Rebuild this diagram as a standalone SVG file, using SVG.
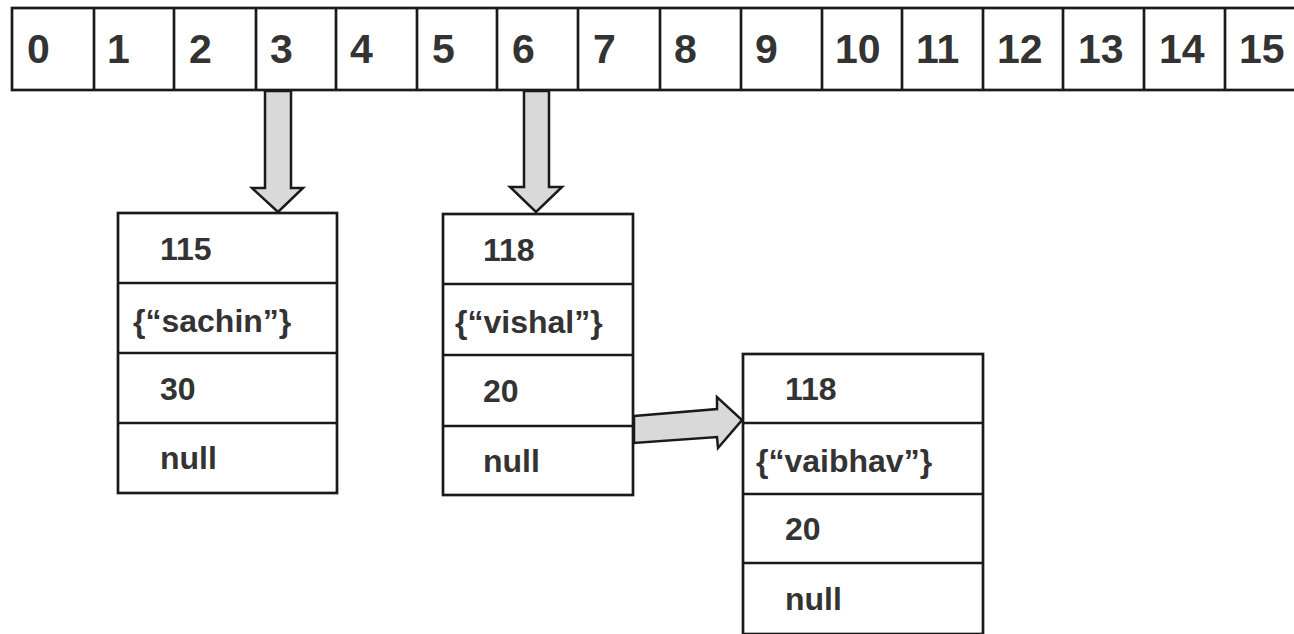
<svg xmlns="http://www.w3.org/2000/svg" width="1294" height="634" viewBox="0 0 1294 634">
<style>
.cell{fill:#fff;stroke:#1a1a1a;stroke-width:2.7}
.div{stroke:#1a1a1a;stroke-width:2.7}
.idx{font-family:"Liberation Sans",Arial,sans-serif;font-weight:bold;font-size:41px;fill:#333}
.t{font-family:"Liberation Sans",Arial,sans-serif;font-weight:bold;font-size:32px;fill:#333}
.arr{fill:#d9d9d9;stroke:#1a1a1a;stroke-width:2.5;stroke-linejoin:miter}
</style>
<rect width="1294" height="634" fill="#fff"/>
<g id="array">
<rect class="cell" x="12" y="8" width="1296" height="82"/>
<g class="div">
<line x1="94" y1="8" x2="94" y2="90"/>
<line x1="174" y1="8" x2="174" y2="90"/>
<line x1="256" y1="8" x2="256" y2="90"/>
<line x1="336" y1="8" x2="336" y2="90"/>
<line x1="417" y1="8" x2="417" y2="90"/>
<line x1="497" y1="8" x2="497" y2="90"/>
<line x1="578" y1="8" x2="578" y2="90"/>
<line x1="660" y1="8" x2="660" y2="90"/>
<line x1="741" y1="8" x2="741" y2="90"/>
<line x1="822" y1="8" x2="822" y2="90"/>
<line x1="902" y1="8" x2="902" y2="90"/>
<line x1="983" y1="8" x2="983" y2="90"/>
<line x1="1063" y1="8" x2="1063" y2="90"/>
<line x1="1144" y1="8" x2="1144" y2="90"/>
<line x1="1225" y1="8" x2="1225" y2="90"/>
</g>
<text class="idx" x="27" y="63">0</text>
<text class="idx" x="107" y="63">1</text>
<text class="idx" x="189" y="63">2</text>
<text class="idx" x="270" y="63">3</text>
<text class="idx" x="350" y="63">4</text>
<text class="idx" x="432" y="63">5</text>
<text class="idx" x="512" y="63">6</text>
<text class="idx" x="593" y="63">7</text>
<text class="idx" x="674" y="63">8</text>
<text class="idx" x="755" y="63">9</text>
<text class="idx" x="835" y="63">10</text>
<text class="idx" x="916" y="63">11</text>
<text class="idx" x="997" y="63">12</text>
<text class="idx" x="1078" y="63">13</text>
<text class="idx" x="1159" y="63">14</text>
<text class="idx" x="1239" y="63">15</text>
</g>
<g id="connectors">
<polygon class="arr" points="265,91 291,91 291,188 303,188 278,212 252,188 265,188"/>
<polygon class="arr" points="524,91 549,91 549,187 562,187 536,212 510,187 524,187"/>
<polygon class="arr" points="634,416 717,409 717,397 742,420 718,448 717,437 634,443"/>
</g>
<g id="node-sachin">
<rect class="cell" x="118" y="213" width="219" height="280"/>
<line class="div" x1="118" y1="283" x2="337" y2="283"/>
<line class="div" x1="118" y1="353" x2="337" y2="353"/>
<line class="div" x1="118" y1="423" x2="337" y2="423"/>
<text class="t" x="160" y="260">115</text>
<text class="t" x="133" y="332">{“sachin”}</text>
<text class="t" x="160" y="400">30</text>
<text class="t" x="160" y="469">null</text>
</g>
<g id="node-vishal">
<rect class="cell" x="443" y="214" width="190" height="281"/>
<line class="div" x1="443" y1="284" x2="633" y2="284"/>
<line class="div" x1="443" y1="355" x2="633" y2="355"/>
<line class="div" x1="443" y1="426" x2="633" y2="426"/>
<text class="t" x="483" y="261">118</text>
<text class="t" x="455" y="333">{“vishal”}</text>
<text class="t" x="483" y="402">20</text>
<text class="t" x="483" y="472">null</text>
</g>
<g id="node-vaibhav">
<rect class="cell" x="743" y="354" width="240" height="280"/>
<line class="div" x1="743" y1="423" x2="983" y2="423"/>
<line class="div" x1="743" y1="494" x2="983" y2="494"/>
<line class="div" x1="743" y1="563" x2="983" y2="563"/>
<text class="t" x="785" y="400">118</text>
<text class="t" x="756" y="472">{“vaibhav”}</text>
<text class="t" x="785" y="540">20</text>
<text class="t" x="785" y="610">null</text>
</g>
</svg>
